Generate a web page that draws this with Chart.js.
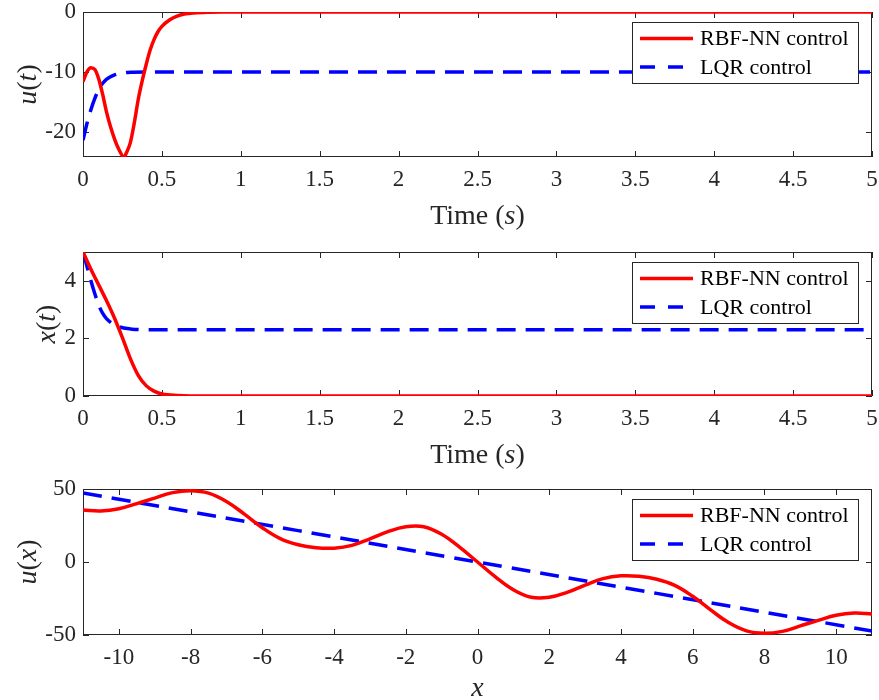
<!DOCTYPE html>
<html>
<head>
<meta charset="utf-8">
<script src="https://cdn.jsdelivr.net/npm/chart.js@4.4.1/dist/chart.umd.min.js"></script>
<style>
  body { margin: 0; background: #fff; }
  .panel { position: absolute; left: 0; }
</style>
</head>
<body>
<canvas id="plotUt" class="panel" width="879" height="232" style="top:0px"></canvas>
<canvas id="plotXt" class="panel" width="879" height="238" style="top:232px"></canvas>
<canvas id="plotUx" class="panel" width="879" height="230" style="top:470px"></canvas>
<script>
// Control input u(t)
const T_RBF_U = [0, 0.025, 0.05, 0.075, 0.1, 0.125, 0.15, 0.175, 0.2, 0.225, 0.26, 0.275, 0.3, 0.325, 0.35, 0.375, 0.4, 0.425, 0.45, 0.475, 0.5, 0.55, 0.6, 0.65, 0.7, 0.8, 0.9, 1, 5];
const U_RBF = [-11.6, -10.0, -9.3, -9.6, -11.2, -13.8, -16.8, -19.2, -21.2, -22.8, -24.2, -23.5, -21.8, -18.5, -14.6, -11.5, -8.8, -6.4, -4.6, -3.3, -2.4, -1.3, -0.65, -0.3, -0.15, -0.04, -0.01, 0, 0];
const T_LQR_U = [0, 0.025, 0.05, 0.075, 0.1, 0.125, 0.15, 0.2, 0.25, 0.3, 0.4, 5];
const U_LQR = [-21.4, -18.6, -16.3, -14.4, -12.9, -11.9, -11.2, -10.5, -10.2, -10.05, -10, -10];

// State x(t)
const T_RBF_X = [0, 0.05, 0.1, 0.15, 0.2, 0.25, 0.3, 0.35, 0.4, 0.45, 0.5, 0.6, 0.8, 5];
const X_RBF = [5, 4.4, 3.85, 3.3, 2.7, 2.02, 1.3, 0.72, 0.36, 0.17, 0.07, 0.02, 0, 0];
const T_LQR_X = [0, 0.025, 0.05, 0.075, 0.1, 0.125, 0.15, 0.2, 0.25, 0.3, 0.4, 5];
const X_LQR = [5, 4.5, 4.0, 3.55, 3.15, 2.87, 2.68, 2.47, 2.37, 2.33, 2.3, 2.3];

// Control law u(x)
const XS_RBF = [-11, -10.5, -10, -9.5, -9, -8.5, -8, -7.5, -7, -6.5, -6, -5.5, -5, -4.5, -4, -3.5, -3, -2.5, -2, -1.5, -1, -0.5,
  0, 0.5, 1, 1.5, 2, 2.5, 3, 3.5, 4, 4.5, 5, 5.5, 6, 6.5, 7, 7.5, 8, 8.5, 9, 9.5, 10, 10.5, 11];
const UX_RBF = [35.6, 35.0, 36.5, 40.0, 43.8, 47.5, 48.8, 47.2, 41.5, 32.8, 23.5, 16.0, 11.8, 9.8, 9.5, 11.4, 15.8, 20.8, 24.2, 24.2, 19.0, 10.2,
  0, -10.2, -19.0, -24.2, -24.2, -20.8, -15.8, -11.4, -9.5, -9.8, -11.8, -16.0, -23.5, -32.8, -41.5, -47.2, -48.8, -47.5, -43.8, -40.0, -36.5, -35.0, -35.6];
const XS_LQR = [-11, -5, 0, 5, 11];
const UX_LQR = [47.3, 21.5, 0, -21.5, -47.3];

// Tick values
const TIME_TICKS = [0, 0.5, 1, 1.5, 2, 2.5, 3, 3.5, 4, 4.5, 5];
const UT_TICKS = [-20, -10, 0];
const XT_TICKS = [0, 2, 4];
const X_TICKS = [-10, -8, -6, -4, -2, 0, 2, 4, 6, 8, 10];
const UX_TICKS = [-50, 0, 50];

const SERIES_NAMES = ["RBF-NN control", "LQR control"];

const INK = "#262626";
const FAMILY = "'Liberation Serif', 'Times New Roman', serif";
const TICK_FONT = { family: FAMILY, size: 23 };
const TITLE_SIZE = 28;
const LEGEND_SIZE = 22;

function points(xs, ys) {
  return xs.map(function (x, i) { return { x: x, y: ys[i] }; });
}

// Axes box with inward tick marks on all four sides
const frame = {
  id: "frame",
  beforeDatasetsDraw(chart) {
    const ctx = chart.ctx, a = chart.chartArea;
    const sx = chart.scales.x, sy = chart.scales.y;
    const len = 6;
    ctx.save();
    ctx.strokeStyle = INK;
    ctx.lineWidth = 1;
    ctx.strokeRect(Math.round(a.left) + 0.5, Math.round(a.top) + 0.5,
      Math.round(a.right - a.left) - 1, Math.round(a.bottom - a.top) - 1);
    ctx.beginPath();
    sx.ticks.forEach(function (t) {
      const px = Math.round(sx.getPixelForValue(t.value)) + 0.5;
      ctx.moveTo(px, a.bottom); ctx.lineTo(px, a.bottom - len);
      ctx.moveTo(px, a.top); ctx.lineTo(px, a.top + len);
    });
    sy.ticks.forEach(function (t) {
      const py = Math.round(sy.getPixelForValue(t.value)) + 0.5;
      ctx.moveTo(a.left, py); ctx.lineTo(a.left + len, py);
      ctx.moveTo(a.right, py); ctx.lineTo(a.right - len, py);
    });
    ctx.stroke();
    ctx.restore();
  }
};

// Write a label made of upright and italic pieces, centred on (x, y)
function drawRich(ctx, parts, x, y, angle, baseline) {
  ctx.save();
  ctx.translate(x, y);
  ctx.rotate(angle);
  ctx.textBaseline = baseline;
  ctx.textAlign = "left";
  const fonts = parts.map(function (p) {
    return (p.italic ? "italic " : "") + TITLE_SIZE + "px " + FAMILY;
  });
  const widths = parts.map(function (p, i) {
    ctx.font = fonts[i];
    return ctx.measureText(p.text).width;
  });
  let cur = -widths.reduce(function (s, w) { return s + w; }, 0) / 2;
  parts.forEach(function (p, i) {
    ctx.font = fonts[i];
    ctx.fillText(p.text, cur, 0);
    cur += widths[i];
  });
  ctx.restore();
}

const axisTitles = {
  id: "axisTitles",
  afterDraw(chart, args, opts) {
    const ctx = chart.ctx, a = chart.chartArea, sy = chart.scales.y;
    ctx.save();
    ctx.fillStyle = INK;
    drawRich(ctx, opts.x, (a.left + a.right) / 2, a.bottom + opts.xGap, 0, "alphabetic");
    ctx.font = TICK_FONT.size + "px " + FAMILY;
    const labelW = Math.max.apply(null, sy.ticks.map(function (t) {
      return ctx.measureText(t.label).width;
    }));
    const cx = a.left - sy.options.ticks.padding - labelW - 17;
    drawRich(ctx, opts.y, cx, (a.top + a.bottom) / 2, -Math.PI / 2, "middle");
    ctx.restore();
  }
};

// Boxed legend in the upper right of the plot area
const boxLegend = {
  id: "boxLegend",
  afterDatasetsDraw(chart) {
    const ctx = chart.ctx, a = chart.chartArea;
    const sets = chart.data.datasets;
    ctx.save();
    ctx.font = LEGEND_SIZE + "px " + FAMILY;
    const textW = Math.max.apply(null, sets.map(function (d) { return ctx.measureText(d.label).width; }));
    const w = Math.round(68 + textW + 9), h = 61;
    const x0 = Math.round(a.right - 14 - w), y0 = Math.round(a.top + 10);
    ctx.fillStyle = "#fff";
    ctx.fillRect(x0, y0, w, h);
    ctx.strokeStyle = INK;
    ctx.lineWidth = 1;
    ctx.strokeRect(x0 + 0.5, y0 + 0.5, w, h);
    sets.forEach(function (d, i) {
      const cy = y0 + 16.5 + i * 28.5;
      ctx.strokeStyle = d.borderColor;
      ctx.lineWidth = d.borderWidth;
      ctx.setLineDash(d.borderDash ? [15, 13] : []);
      ctx.beginPath();
      ctx.moveTo(x0 + 8, cy);
      ctx.lineTo(x0 + 61, cy);
      ctx.stroke();
      ctx.setLineDash([]);
      ctx.fillStyle = "#000";
      ctx.textBaseline = "middle";
      ctx.fillText(d.label, x0 + 68, cy + 1);
    });
    ctx.restore();
  }
};

function makePlot(id, cfg) {
  // evenly spaced samples get a plain spline, the time responses a monotone one
  const curve = cfg.smooth
    ? { tension: 0.4 }
    : { cubicInterpolationMode: "monotone" };
  return new Chart(document.getElementById(id), {
    type: "line",
    data: {
      datasets: [
        Object.assign({
          label: SERIES_NAMES[0],
          data: cfg.red,
          borderColor: "#ff0000",
          borderWidth: 3.5,
          pointRadius: 0
        }, curve),
        Object.assign({
          label: SERIES_NAMES[1],
          data: cfg.blue,
          borderColor: "#0000ff",
          borderWidth: 3.5,
          borderDash: [19, 10],
          pointRadius: 0
        }, curve)
      ]
    },
    options: {
      responsive: false,
      animation: false,
      events: [],
      layout: { autoPadding: false, padding: { left: 0, right: 7, top: cfg.top, bottom: 0 } },
      scales: {
        x: {
          type: "linear",
          min: cfg.xMin,
          max: cfg.xMax,
          grid: { display: false, drawTicks: false },
          border: { display: false },
          afterBuildTicks: function (s) { s.ticks = cfg.xTicks.map(function (v) { return { value: v }; }); },
          afterFit: function (s) {
            s.height = cfg.xHeight;
            s.paddingLeft = 0;
            s.paddingRight = 0;
          },
          ticks: {
            font: TICK_FONT, color: INK, padding: 9, maxRotation: 0, autoSkip: false,
            callback: function (v) { return String(v); }
          }
        },
        y: {
          type: "linear",
          min: cfg.yMin,
          max: cfg.yMax,
          grid: { display: false, drawTicks: false },
          border: { display: false },
          afterBuildTicks: function (s) { s.ticks = cfg.yTicks.map(function (v) { return { value: v }; }); },
          afterFit: function (s) {
            s.width = 83;
            s.paddingTop = 0;
            s.paddingBottom = 0;
          },
          ticks: {
            font: TICK_FONT, color: INK, padding: 7, autoSkip: false,
            callback: function (v) { return String(v); }
          }
        }
      },
      plugins: {
        legend: { display: false },
        tooltip: { enabled: false },
        axisTitles: { x: cfg.xTitle, y: cfg.yTitle, xGap: cfg.xGap }
      }
    },
    plugins: [frame, boxLegend, axisTitles]
  });
}

const TIME_TITLE = [{ text: "Time (" }, { text: "s", italic: true }, { text: ")" }];

makePlot("plotUt", {
  red: points(T_RBF_U, U_RBF), blue: points(T_LQR_U, U_LQR),
  xMin: 0, xMax: 5, yMin: -24.2, yMax: 0, xTicks: TIME_TICKS, yTicks: UT_TICKS,
  top: 12, xHeight: 75, xGap: 67,
  xTitle: TIME_TITLE,
  yTitle: [{ text: "u", italic: true }, { text: "(" }, { text: "t", italic: true }, { text: ")" }]
});

makePlot("plotXt", {
  red: points(T_RBF_X, X_RBF), blue: points(T_LQR_X, X_LQR),
  xMin: 0, xMax: 5, yMin: 0, yMax: 5, xTicks: TIME_TICKS, yTicks: XT_TICKS,
  top: 20, xHeight: 74, xGap: 67,
  xTitle: TIME_TITLE,
  yTitle: [{ text: "x", italic: true }, { text: "(" }, { text: "t", italic: true }, { text: ")" }]
});

makePlot("plotUx", {
  red: points(XS_RBF, UX_RBF), blue: points(XS_LQR, UX_LQR), smooth: true,
  xMin: -11, xMax: 11, yMin: -50, yMax: 50, xTicks: X_TICKS, yTicks: UX_TICKS,
  top: 19, xHeight: 65, xGap: 61,
  xTitle: [{ text: "x", italic: true }],
  yTitle: [{ text: "u", italic: true }, { text: "(" }, { text: "x", italic: true }, { text: ")" }]
});
</script>
</body>
</html>
